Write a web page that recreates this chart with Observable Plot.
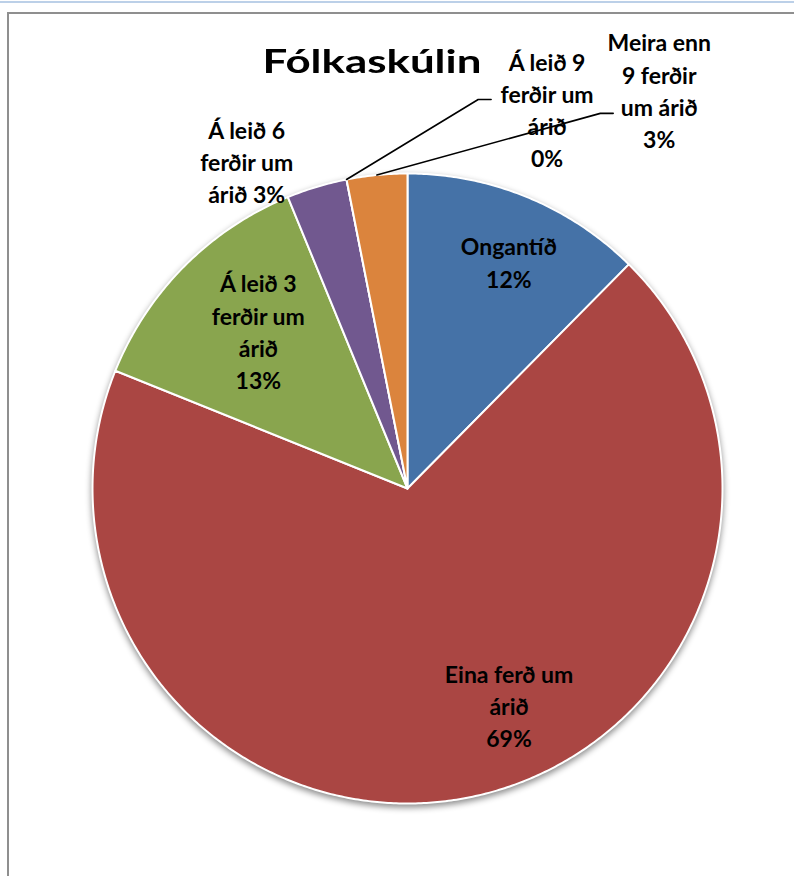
<!DOCTYPE html>
<html><head><meta charset="utf-8">
<script src="https://cdn.jsdelivr.net/npm/d3@7"></script>
<script src="https://cdn.jsdelivr.net/npm/@observablehq/plot@0.6"></script>
<style>
html,body{margin:0;padding:0;background:#fff;}
#wrap{position:relative;width:794px;height:876px;overflow:hidden;background:#fff;}
#topline{position:absolute;left:0;top:1px;width:794px;height:2px;background:#bcd0e8;}
#frame{position:absolute;left:7px;top:12px;width:820px;height:900px;border-left:2px solid #8f8f8f;border-top:2px solid #8f8f8f;}
#chart{position:absolute;left:0;top:0;}
#title{position:absolute;left:0;top:46px;width:744px;text-align:center;font-family:Lato,sans-serif;font-weight:bold;font-size:32px;line-height:30px;color:#000;transform:scaleX(1.37);transform-origin:372px 50%;}
g[aria-description="pie"]{filter:drop-shadow(0px 3px 3px rgba(0,0,0,0.45));}
</style>
</head><body>
<div id="wrap"><div id="topline"></div><div id="frame"></div><div id="chart"></div><div id="title"></div></div>
<script>
// ---- data ----
const title = "Fólkaskúlin";
const categories = ["Ongantíð", "Eina ferð um árið", "Á leið 3 ferðir um árið", "Á leið 6 ferðir um árið", "Á leið 9 ferðir um árið", "Meira enn 9 ferðir um árið"];
const values = [12.4, 68.7, 12.7, 3.1, 0, 3.1];
const labelLines = [["Ongantíð"], ["Eina ferð um", "árið"], ["Á leið 3", "ferðir um", "árið"], ["Á leið 6", "ferðir um", "árið"], ["Á leið 9", "ferðir um", "árið"], ["Meira enn", "9 ferðir", "um árið"]];
const colors = ["#4572A7", "#AA4643", "#89A54E", "#71588F", "#4198AF", "#DB843D"];

// ---- layout (label placement) ----
const labelLayout = [
  {r: 0.78, dx: 8, dy: 0},
  {r: 0.76, dx: 53, dy: -18},
  {r: 0.69, dx: 5, dy: -5},
  {r: 1.10, dx: -61, dy: 4, inline: true},
  {leader: {angle: 10.3, r: 1.255}, dx: 56, dy: 9},
  {leader: {angle: 27.2, r: 1.339}, dx: 46, dy: -24}
];

document.getElementById("title").textContent = title;

const total = d3.sum(values);
const rad = Math.PI / 180;
const pt = (deg, r) => ({x: r * Math.sin(deg * rad), y: r * Math.cos(deg * rad)});

let cum = 0;
const slices = categories.map((key, i) => {
  const a0 = cum / total * 360;
  cum += values[i];
  const a1 = cum / total * 360;
  return {key, i, a0, a1, mid: (a0 + a1) / 2};
});

const piePts = [];
for (const s of slices) {
  piePts.push({key: s.key, x: 0, y: 0});
  const n = Math.max(1, Math.ceil((s.a1 - s.a0) / 0.5));
  for (let k = 0; k <= n; k++) {
    const p = pt(s.a0 + (s.a1 - s.a0) * k / n, 1);
    piePts.push({key: s.key, ...p});
  }
}

const leaderPts = [];
const labels = slices.map(s => {
  const L = labelLayout[s.i];
  const pctText = Math.round(values[s.i] / total * 100) + "%";
  const lines = labelLines[s.i].slice();
  if (L.inline) lines[lines.length - 1] += " " + pctText; else lines.push(pctText);
  let anchor;
  if (L.leader) {
    const start = pt(s.i === 4 ? s.a0 : s.mid, 1);
    const elbow = pt(L.leader.angle, L.leader.r);
    const end = {x: elbow.x + 0.041, y: elbow.y};
    leaderPts.push({key: s.key, ...start}, {key: s.key, ...elbow}, {key: s.key, ...end});
    anchor = end;
  } else {
    anchor = pt(s.mid, L.r);
  }
  return {key: s.key, x: anchor.x, y: anchor.y, text: lines.join("\n"), dx: L.dx, dy: L.dy};
});

const chart = Plot.plot({
  width: 794, height: 876, margin: 0,
  x: {domain: [-1, 1], range: [92, 722], axis: null},
  y: {domain: [-1, 1], range: [803, 173], axis: null},
  color: {domain: categories, range: colors},
  style: {fontFamily: "Lato, sans-serif", background: "transparent", overflow: "visible"},
  marks: [
    Plot.line(piePts, {x: "x", y: "y", z: "key", fill: "key", stroke: "white", strokeWidth: 2, curve: "linear-closed", strokeLinejoin: "round", ariaDescription: "pie"}),
    Plot.line(leaderPts, {x: "x", y: "y", z: "key", stroke: "black", strokeWidth: 1.6}),
    ...labels.map(d => Plot.text([d], {x: "x", y: "y", text: "text", dx: d.dx, dy: d.dy, fontSize: 23, fontWeight: "bold", lineHeight: 1.4, fill: "black", textAnchor: "middle", lineAnchor: "middle"}))
  ]
});
document.getElementById("chart").appendChild(chart);
</script>
</body></html>
